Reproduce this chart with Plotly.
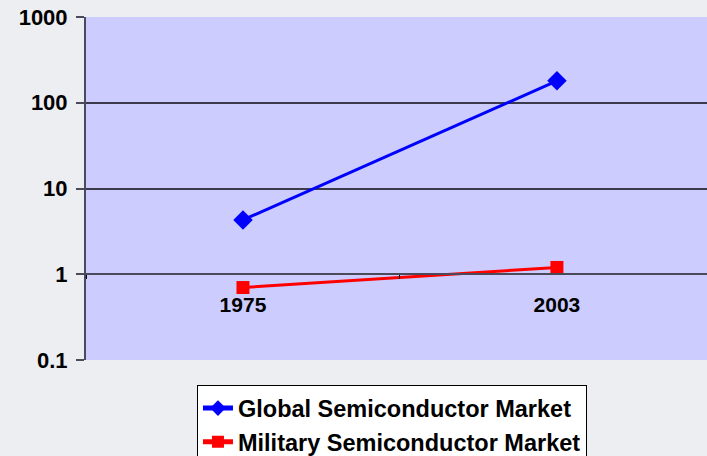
import plotly.graph_objects as go

years = ["1975", "2003"]
global_market = [4.3, 180]
military_market = [0.7, 1.2]
y_ticks = [0.1, 1, 10, 100, 1000]
y_ticklabels = ["0.1", "1", "10", "100", "1000"]

FONT = "Liberation Sans, Arial, sans-serif"

fig = go.Figure()
fig.add_trace(go.Scatter(
    x=years, y=global_market, name="Global Semiconductor Market",
    mode="lines+markers",
    line=dict(color="#0000FF", width=3),
    marker=dict(symbol="diamond", size=15, color="#0000FF"),
))
fig.add_trace(go.Scatter(
    x=years, y=military_market, name="Military Semiconductor Market",
    mode="lines+markers",
    line=dict(color="#FF0000", width=3),
    marker=dict(symbol="square", size=13, color="#FF0000"),
))

fig.update_layout(
    width=707, height=456,
    margin=dict(l=86, r=0, t=17, b=96, autoexpand=False),
    paper_bgcolor="#ECEEF2",
    plot_bgcolor="#CCCCFF",
    font=dict(family=FONT, size=22, color="#000000", weight="bold"),
    showlegend=True,
    legend=dict(
        xref="container", yref="container",
        x=0.2786, y=0.155, xanchor="left", yanchor="top",
        bgcolor="#FFFFFF", bordercolor="#000000", borderwidth=1,
        font=dict(family=FONT, size=23.5, color="#000000", weight="bold"),
        traceorder="normal", itemsizing="constant",
    ),
    xaxis=dict(
        type="category", range=[-0.5, 1.478],
        anchor="free", position=0.25,
        showline=True, linecolor="#4A4A5A", linewidth=2,
        showgrid=False, zeroline=False,
        tickson="boundaries", ticks="outside", ticklen=4, tickcolor="#000000",
        ticklabelstandoff=12,
        tickfont=dict(family=FONT, size=21, color="#000000", weight="bold"),
    ),
    yaxis=dict(
        type="log", range=[-1, 3],
        tickvals=y_ticks, ticktext=y_ticklabels,
        showline=True, linecolor="#4A4A5A", linewidth=2,
        showgrid=True, gridcolor="#3A3A4A", gridwidth=2,
        ticks="outside", ticklen=8, tickcolor="#4A4A5A", tickwidth=2,
        ticklabelstandoff=4,
        tickfont=dict(family=FONT, size=22, color="#000000", weight="bold"),
        zeroline=False,
    ),
)

fig.write_html("out.html")
